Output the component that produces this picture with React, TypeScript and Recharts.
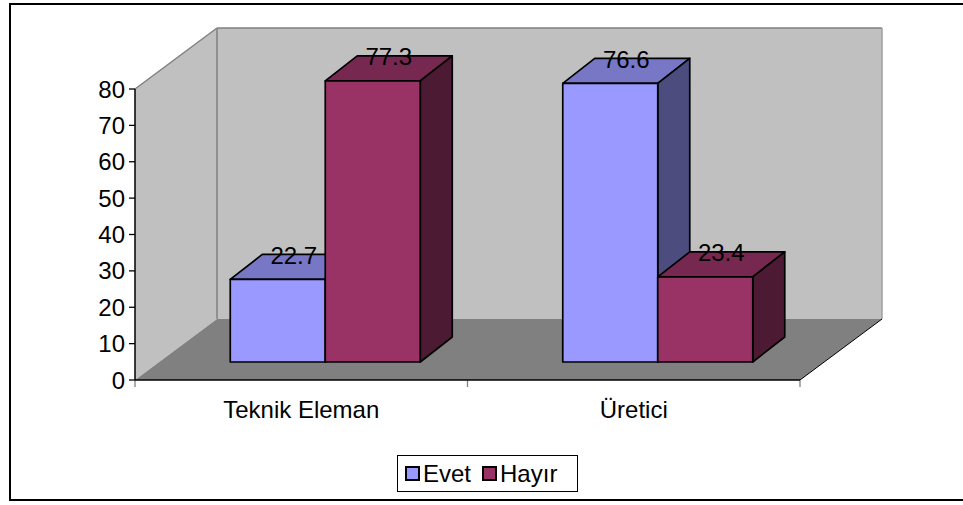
import React from 'react';
import { BarChart, Bar, XAxis, YAxis, ReferenceArea, Legend, LabelList } from 'recharts';

const categories = ['Teknik Eleman', 'Üretici'];
const evetValues = [22.7, 76.6];
const hayirValues = [77.3, 23.4];
const yTicks = [0, 10, 20, 30, 40, 50, 60, 70, 80];

const data = categories.map((name, i) => ({ name, Evet: evetValues[i], 'Hayır': hayirValues[i] }));

const FONT = '"Liberation Sans", Arial, sans-serif';
const FS = 24;
// 3D offsets
const FRONT = { dx: 24, dy: -18 };
const DEPTH = { dx: 32, dy: -25 };
const WALL = { dx: 82, dy: -61 };

const pts = (arr: number[][]) => arr.map((p) => p.join(',')).join(' ');

const makeBox = (front: string, top: string, side: string) => (props: any) => {
  const { x, y, width, height } = props;
  if (width == null || height == null) return null;
  const fx = x + FRONT.dx;
  const fy = y + FRONT.dy;
  const w = width;
  const h = height;
  const st = { stroke: '#000', strokeWidth: 1.7, strokeLinejoin: 'round' as const };
  return (
    <g>
      <polygon
        points={pts([[fx, fy], [fx + DEPTH.dx, fy + DEPTH.dy], [fx + w + DEPTH.dx, fy + DEPTH.dy], [fx + w, fy]])}
        fill={top}
        {...st}
      />
      <polygon
        points={pts([[fx + w, fy], [fx + w + DEPTH.dx, fy + DEPTH.dy], [fx + w + DEPTH.dx, fy + h + DEPTH.dy], [fx + w, fy + h]])}
        fill={side}
        {...st}
      />
      <rect x={fx} y={fy} width={w} height={h} fill={front} {...st} />
    </g>
  );
};

const evetShape = makeBox('#9999FF', '#7777C6', '#4C4C7F');
const hayirShape = makeBox('#993366', '#772850', '#4D1A33');

const renderLabel = (props: any) => {
  const { x, y, width, value } = props;
  const cx = x + width / 2 + FRONT.dx + DEPTH.dx / 2;
  const by = y + FRONT.dy + DEPTH.dy + 9.5;
  return (
    <text x={cx} y={by} textAnchor="middle" fontFamily={FONT} fontSize={FS} fill="#000">
      {value}
    </text>
  );
};

const Walls = (props: any) => {
  const { x, y, width, height } = props;
  if (width == null) return null;
  const bx = x + WALL.dx;
  const by = y + WALL.dy;
  const b = y + height;
  const edge = { stroke: '#808080', strokeWidth: 1.5 };
  const ticks = [x, x + width / 2, x + width];
  return (
    <g>
      <polygon points={pts([[x, y], [bx, by], [bx, by + height], [x, b]])} fill="#C0C0C0" />
      <rect x={bx} y={by} width={width} height={height} fill="#C0C0C0" />
      <polygon points={pts([[x, b], [bx, by + height], [bx + width, by + height], [x + width, b]])} fill="#808080" />
      <line x1={x} y1={y} x2={bx} y2={by} {...edge} />
      <line x1={bx} y1={by} x2={bx + width} y2={by} {...edge} />
      <line x1={bx} y1={by} x2={bx} y2={by + height} {...edge} />
      <line x1={bx + width} y1={by} x2={bx + width} y2={by + height} stroke="#A0A0A0" strokeWidth={1.5} />
      <line x1={x + width} y1={b} x2={bx + width} y2={by + height} stroke="#000" strokeWidth={1} />
      {ticks.map((tx, i) => (
        <line key={i} x1={tx} y1={b} x2={tx} y2={b + 7} stroke="#808080" strokeWidth={1.3} />
      ))}
    </g>
  );
};

const LegendBox = (props: any) => {
  const payload = props.payload || [];
  return (
    <div
      style={{
        boxSizing: 'border-box',
        width: '100%',
        height: '100%',
        border: '1px solid #000',
        background: '#fff',
        display: 'flex',
        alignItems: 'center',
        paddingLeft: 7,
        fontFamily: FONT,
        fontSize: FS,
        color: '#000',
      }}
    >
      {payload.map((entry: any, i: number) => (
        <div key={i} style={{ display: 'flex', alignItems: 'center', marginRight: 11 }}>
          <span
            style={{
              display: 'inline-block',
              boxSizing: 'border-box',
              width: 15,
              height: 15,
              border: '2px solid #000',
              background: entry.color,
              marginRight: 3,
            }}
          />
          <span style={{ lineHeight: '24px' }}>{entry.value}</span>
        </div>
      ))}
    </div>
  );
};

export default function App() {
  return (
    <div style={{ position: 'absolute', left: 0, top: 0, width: 963, height: 505, overflow: 'hidden', background: '#fff' }}>
      <div
        style={{
          position: 'absolute',
          left: 9,
          top: 3,
          width: 1000,
          height: 498,
          border: '2px solid #000',
          boxSizing: 'border-box',
        }}
      />
      <div style={{ position: 'absolute', left: 0, top: 0 }}>
        <BarChart
          width={963}
          height={505}
          data={data}
          margin={{ top: 89, right: 163, bottom: 95, left: 75 }}
          barCategoryGap="21.43%"
          barGap={0}
        >
          <ReferenceArea y1={0} y2={80} ifOverflow="visible" shape={<Walls />} />
          <XAxis
            dataKey="name"
            height={30}
            axisLine={{ stroke: '#000', strokeWidth: 1.5 }}
            tickLine={false}
            tickSize={6}
            tickMargin={15}
            tick={{ fill: '#000', fontSize: FS, fontFamily: FONT }}
          />
          <YAxis
            width={60}
            domain={[0, 80]}
            ticks={yTicks}
            interval={0}
            axisLine={{ stroke: '#000', strokeWidth: 1.5 }}
            tickLine={{ stroke: '#000', strokeWidth: 1.3 }}
            tickSize={6}
            tickMargin={4}
            tick={{ fill: '#000', fontSize: FS, fontFamily: FONT }}
          />
          <Bar dataKey="Evet" fill="#9999FF" shape={evetShape} isAnimationActive={false}>
            <LabelList dataKey="Evet" content={renderLabel} />
          </Bar>
          <Bar dataKey="Hayır" fill="#993366" shape={hayirShape} isAnimationActive={false}>
            <LabelList dataKey="Hayır" content={renderLabel} />
          </Bar>
          <Legend
            layout="horizontal"
            verticalAlign="middle"
            align="center"
            content={<LegendBox />}
            wrapperStyle={{ left: 397, top: 455, width: 181, height: 37 }}
          />
        </BarChart>
      </div>
    </div>
  );
}
